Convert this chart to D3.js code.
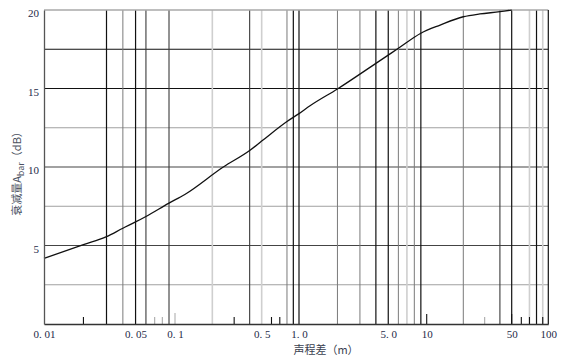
<!DOCTYPE html>
<html>
<head>
<meta charset="utf-8">
<script src="https://cdn.jsdelivr.net/npm/d3@7"></script>
<style>
  html, body { margin: 0; padding: 0; background: #fff; }
  svg { display: block; }
</style>
</head>
<body>
<svg id="chart" width="565" height="360"></svg>
<script>
// ---------- data ----------
const distance = [0.01, 0.02, 0.03, 0.04, 0.05, 0.06, 0.09, 0.12, 0.245, 0.4, 0.5, 0.8, 1.0, 1.22, 2, 4, 6, 9, 12.9, 20, 27.4, 40, 50];
const attenuation = [4.18, 5.05, 5.56, 6.1, 6.5, 6.85, 7.7, 8.25, 10.0, 11.05, 11.65, 12.9, 13.4, 13.9, 14.97, 16.6, 17.56, 18.52, 19.04, 19.57, 19.75, 19.89, 20];

const xTickValues = [0.01, 0.05, 0.1, 0.5, 1, 5, 10, 50, 100];
const xTickLabels = ["0. 01", "0. 05", "0. 1", "0. 5", "1. 0", "5. 0", "10", "50", "100"];
const yTickValues = [5, 10, 15, 20];
const yTickLabels = ["5", "10", "15", "20"];

// vertical grid values, grouped by how they were printed
const xGridBlack = [0.03, 0.05, 0.9, 1, 4, 5, 9, 50, 80];
const xGridDark = [0.06, 0.09, 0.4, 40];
const xGridGray = [0.04, 0.8, 2, 3, 6, 8, 20];
const xGridLight = [0.2, 0.5, 7, 70, 90];
const xShortBlack = [0.02, 0.3, 0.6, 0.7, 60, 70, 90];
const xShortGray = [0.07, 0.08, 30];
const xTallBlack = [10, 50];
const xTallLight = [0.1];

// horizontal grid values
const yGridBlack = [15, 17.5];
const yGridDark = [5, 10];
const yGridGray = [2.5, 7.5, 12.5];

const xTitle = "声程差（m）";

// ---------- layout ----------
const mLeft = 44, mRight = 548.3, mTop = 10, mBottom = 324;
const svg = d3.select("#chart");

const x = d3.scaleLog()
  .domain([0.01, 0.1, 1, 10, 100])
  .range([mLeft, 175, 299, 426.7, mRight]);
const y = d3.scaleLinear().domain([0, 20]).range([mBottom, mTop]);

const g = svg.append("g");

// horizontal grid
function hLines(vals, color, width) {
  g.append("g").selectAll("line").data(vals).join("line")
    .attr("x1", mLeft).attr("x2", mRight)
    .attr("y1", d => y(d)).attr("y2", d => y(d))
    .attr("stroke", color).attr("stroke-width", width);
}
hLines(yGridGray, "#a0a0a0", 1);
hLines(yGridDark, "#444", 1.1);
hLines(yGridBlack, "#111", 1.2);

// vertical grid
function vLines(vals, color, width) {
  g.append("g").selectAll("line").data(vals).join("line")
    .attr("x1", d => x(d)).attr("x2", d => x(d))
    .attr("y1", mTop).attr("y2", mBottom)
    .attr("stroke", color).attr("stroke-width", width);
}
vLines(xGridLight, "#cfcfcf", 1.6);
vLines(xGridGray, "#7a7a7a", 1);
vLines(xGridDark, "#3a3a3a", 1.1);
vLines(xGridBlack, "#111", 1.2);

function vTicks(vals, color, width, len) {
  g.append("g").selectAll("line").data(vals).join("line")
    .attr("x1", d => x(d)).attr("x2", d => x(d))
    .attr("y1", mBottom - len).attr("y2", mBottom)
    .attr("stroke", color).attr("stroke-width", width);
}
vTicks(xShortGray, "#a0a0a0", 1, 7);
vTicks(xShortBlack, "#111", 1.1, 7);
vTicks(xTallBlack, "#111", 1.1, 10);
vTicks(xTallLight, "#c8c8c8", 1.6, 11);

// frame
g.append("line").attr("x1", mLeft).attr("x2", mRight).attr("y1", mTop).attr("y2", mTop)
  .attr("stroke", "#a8a8a8").attr("stroke-width", 1.4);
g.append("line").attr("x1", mRight).attr("x2", mRight).attr("y1", mTop).attr("y2", mBottom)
  .attr("stroke", "#111").attr("stroke-width", 1.2);

// curve
const line = d3.line()
  .x((d, i) => x(distance[i]))
  .y(d => y(d))
  .curve(d3.curveMonotoneX);
g.append("path").datum(attenuation)
  .attr("d", line)
  .attr("fill", "none").attr("stroke", "#111").attr("stroke-width", 1.3);

// axes
const xAxis = d3.axisBottom(x).tickValues(xTickValues)
  .tickFormat((d, i) => xTickLabels[i]).tickSize(0).tickPadding(6);
const xa = svg.append("g").attr("transform", `translate(0,${mBottom})`).call(xAxis);
xa.select(".domain").attr("stroke", "#333").attr("stroke-width", 1.6);
xa.selectAll("text")
  .attr("font-family", "'Liberation Serif', 'DejaVu Serif', serif")
  .attr("font-size", 11).attr("fill", "#1e2a48");

const yAxis = d3.axisLeft(y).tickValues(yTickValues)
  .tickFormat((d, i) => yTickLabels[i]).tickSize(0).tickPadding(5);
const ya = svg.append("g").attr("transform", `translate(${mLeft},0)`).call(yAxis);
ya.select(".domain").attr("stroke", "#555").attr("stroke-width", 1.3);
ya.selectAll("text")
  .attr("font-family", "'Liberation Serif', 'DejaVu Serif', serif")
  .attr("font-size", 11).attr("fill", "#1e2a48").attr("dy", "0.6em");

// titles
svg.append("text")
  .attr("x", 326).attr("y", 354)
  .attr("text-anchor", "middle")
  .attr("font-family", "'Noto Sans CJK SC', sans-serif")
  .attr("font-size", 11).attr("fill", "#3a4150")
  .text(xTitle);

const yt = svg.append("text")
  .attr("transform", "translate(21,171) rotate(-90)")
  .attr("text-anchor", "middle")
  .attr("font-family", "'Noto Sans CJK SC', sans-serif")
  .attr("font-size", 11).attr("fill", "#4a5060");
yt.append("tspan").text("衰减量A");
yt.append("tspan").attr("font-size", 9).attr("dy", 3).text("bar");
yt.append("tspan").attr("dy", -3).text("（dB）");
</script>
</body>
</html>
